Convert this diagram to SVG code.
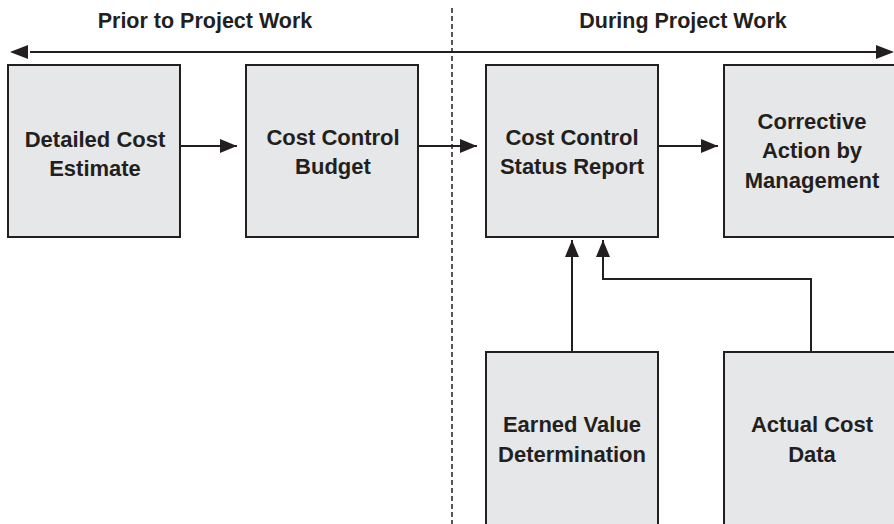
<svg xmlns="http://www.w3.org/2000/svg" width="894" height="524" viewBox="0 0 894 524">
<style>
.box{fill:#e6e7e8;stroke:#231f20;stroke-width:2}
.t{font-family:"Liberation Sans",Arial,sans-serif;font-weight:bold;font-size:22px;fill:#231f20;text-anchor:middle}
.h{font-family:"Liberation Sans",Arial,sans-serif;font-weight:bold;font-size:21.5px;fill:#231f20;text-anchor:middle}
.c{fill:none;stroke:#231f20;stroke-width:2}
</style>
<defs>
<marker id="ah" markerUnits="userSpaceOnUse" markerWidth="18" markerHeight="14" refX="17" refY="7" orient="auto">
<path d="M0,0 L17,7 L0,14 Z" fill="#231f20"/>
</marker>
</defs>
<rect width="894" height="524" fill="#ffffff"/>
<g id="headings">
<text class="h" x="205" y="28">Prior to Project Work</text>
<text class="h" x="683" y="28">During Project Work</text>
</g>
<g id="divider">
<line x1="452" y1="8" x2="452" y2="524" stroke="#231f20" stroke-width="1.5" stroke-dasharray="5 3"/>
</g>
<g id="connectors">
<line class="c" x1="30" y1="52" x2="876" y2="52"/>
<path d="M10,52 L28,45 L28,59 Z" fill="#231f20"/>
<path d="M894,52 L876,45 L876,59 Z" fill="#231f20"/>
<line class="c" x1="180" y1="146" x2="237" y2="146" marker-end="url(#ah)"/>
<line class="c" x1="418" y1="146" x2="477" y2="146" marker-end="url(#ah)"/>
<line class="c" x1="658" y1="146" x2="718" y2="146" marker-end="url(#ah)"/>
<line class="c" x1="572" y1="352" x2="572" y2="240" marker-end="url(#ah)"/>
<polyline class="c" points="811,352 811,279 603,279 603,240" marker-end="url(#ah)"/>
</g>
<g id="n1">
<rect class="box" x="8" y="65" width="172" height="172"/>
<text class="t" x="95" y="147">Detailed Cost</text>
<text class="t" x="95" y="176">Estimate</text>
</g>
<g id="n2">
<rect class="box" x="246" y="65" width="172" height="172"/>
<text class="t" x="333" y="145">Cost Control</text>
<text class="t" x="333" y="174">Budget</text>
</g>
<g id="n3">
<rect class="box" x="486" y="65" width="172" height="172"/>
<text class="t" x="572" y="145">Cost Control</text>
<text class="t" x="572" y="174">Status Report</text>
</g>
<g id="n4">
<rect class="box" x="724" y="65" width="172" height="172"/>
<text class="t" x="812" y="129">Corrective</text>
<text class="t" x="812" y="158">Action by</text>
<text class="t" x="812" y="188">Management</text>
</g>
<g id="n5">
<rect class="box" x="486" y="352" width="172" height="180"/>
<text class="t" x="572" y="432">Earned Value</text>
<text class="t" x="572" y="462">Determination</text>
</g>
<g id="n6">
<rect class="box" x="724" y="352" width="172" height="180"/>
<text class="t" x="812" y="432">Actual Cost</text>
<text class="t" x="812" y="462">Data</text>
</g>
</svg>
